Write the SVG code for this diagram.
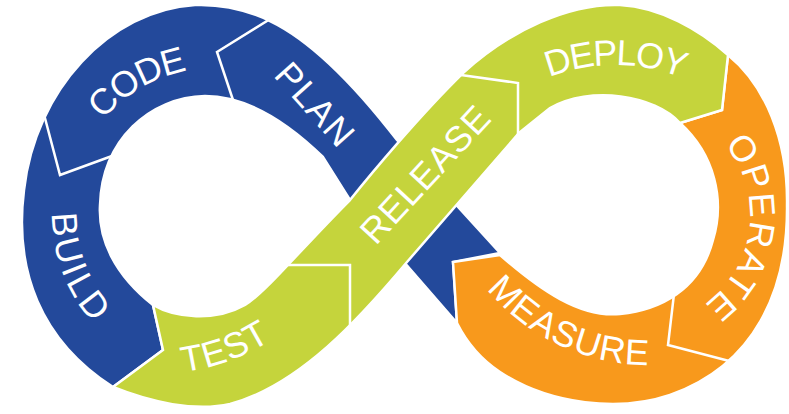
<svg xmlns="http://www.w3.org/2000/svg" xmlns:xlink="http://www.w3.org/1999/xlink" width="789" height="414" viewBox="0 0 789 414">
<defs>
<style>
.band{stroke:#fff;stroke-width:2.5;stroke-linejoin:miter}
.blue{fill:#23499B}
.green{fill:#C5D43C}
.orange{fill:#F8991C}
.div{fill:none;stroke:#fff;stroke-width:2.5;stroke-linejoin:miter}
.lbl{font-family:"Liberation Sans",Arial,sans-serif;font-size:36px;fill:#fff;text-anchor:middle}
</style>
<path id="p-code" d="M 76.4 165.9 A 147 147 0 0 1 239.3 70.0"/>
<path id="p-plan" d="M 252.8 53.3 L 359.2 172.7"/>
<path id="p-build" d="M 60.9 161.9 A 163 163 0 0 0 136.0 357.6"/>
<path id="p-test" d="M 154 374 A 220 220 0 0 0 295.4 322.5"/>
<path id="p-release" d="M 353 270.9 L 516 94.7"/>
<path id="p-deploy" d="M 499.3 107.1 A 180 180 0 0 1 730.7 107.1"/>
<path id="p-operate" d="M 710.7 130.7 A 110 110 0 0 1 686.5 314.7"/>
<path id="p-measure" d="M 449.6 225.2 A 212.5 212.5 0 0 0 722 352.2"/>
</defs>
<rect width="789" height="414" fill="#fff"/>
<g id="band-blue">
<path class="band blue" d="M 457 323 L 453 262 L 500 253 L 397 140 C 370 105 320 45 270 21 C 245 9 220 4 195 5 C 110 10 35 90 24 190 C 14 270 40 340 113 387 L 163 350 L 153 305 C 115 275 98 240 100 205 C 102 140 150 97 205 96 C 245 96 285 120 323 157 L 350 200 Z"/>
</g>
<g id="band-orange">
<path class="band orange" d="M 728 55 C 765 85 788 140 787 205 C 788 290 755 365 670 395 C 620 412 550 405 500 372 C 485 362 468 345 457 323 L 453 262 L 500 255 C 540 290 580 318 620 314 C 660 310 700 290 713 240 C 725 200 715 155 680 123 L 722 110 Z"/>
</g>
<g id="band-green">
<path class="band green" d="M 113 387 L 163 350 L 153 305 C 175 318 215 322 245 305 C 265 293 300 250 350 200 C 370 175 420 115 463 73 C 510 30 570 3 620 5 C 660 7 700 30 728 55 L 722 110 L 680 123 C 655 95 590 85 550 108 L 519 133 L 407 262 C 360 318 300 385 230 404 C 195 412 150 402 113 387 Z"/>
</g>
<g id="dividers">
<path class="div" d="M 275 16 L 217 52 L 233 100"/>
<path class="div" d="M 41 103 L 60 175 L 112 156"/>
<path class="div" d="M 288 265 L 350 265 L 350 330"/>
<path class="div" d="M 461 75 L 518 83 L 518 140"/>
<path class="div" d="M 674 294 L 668 345 L 733 362"/>
</g>
<g id="stage-plan"><text class="lbl" letter-spacing="1.5"><textPath xlink:href="#p-plan" href="#p-plan" startOffset="50%">PLAN</textPath></text></g>
<g id="stage-code"><text class="lbl" letter-spacing="-1.5"><textPath xlink:href="#p-code" href="#p-code" startOffset="50%">CODE</textPath></text></g>
<g id="stage-build"><text class="lbl" letter-spacing="3.4"><textPath xlink:href="#p-build" href="#p-build" startOffset="50%">BUILD</textPath></text></g>
<g id="stage-test"><text class="lbl" letter-spacing="0.7"><textPath xlink:href="#p-test" href="#p-test" startOffset="50%">TEST</textPath></text></g>
<g id="stage-release"><text class="lbl" letter-spacing="1"><textPath xlink:href="#p-release" href="#p-release" startOffset="50%">RELEASE</textPath></text></g>
<g id="stage-deploy"><text class="lbl" letter-spacing="-1.9"><textPath xlink:href="#p-deploy" href="#p-deploy" startOffset="50%">DEPLOY</textPath></text></g>
<g id="stage-operate"><text class="lbl" letter-spacing="1.9"><textPath xlink:href="#p-operate" href="#p-operate" startOffset="50%">OPERATE</textPath></text></g>
<g id="stage-measure"><text class="lbl" letter-spacing="1"><textPath xlink:href="#p-measure" href="#p-measure" startOffset="50%">MEASURE</textPath></text></g>
</svg>
